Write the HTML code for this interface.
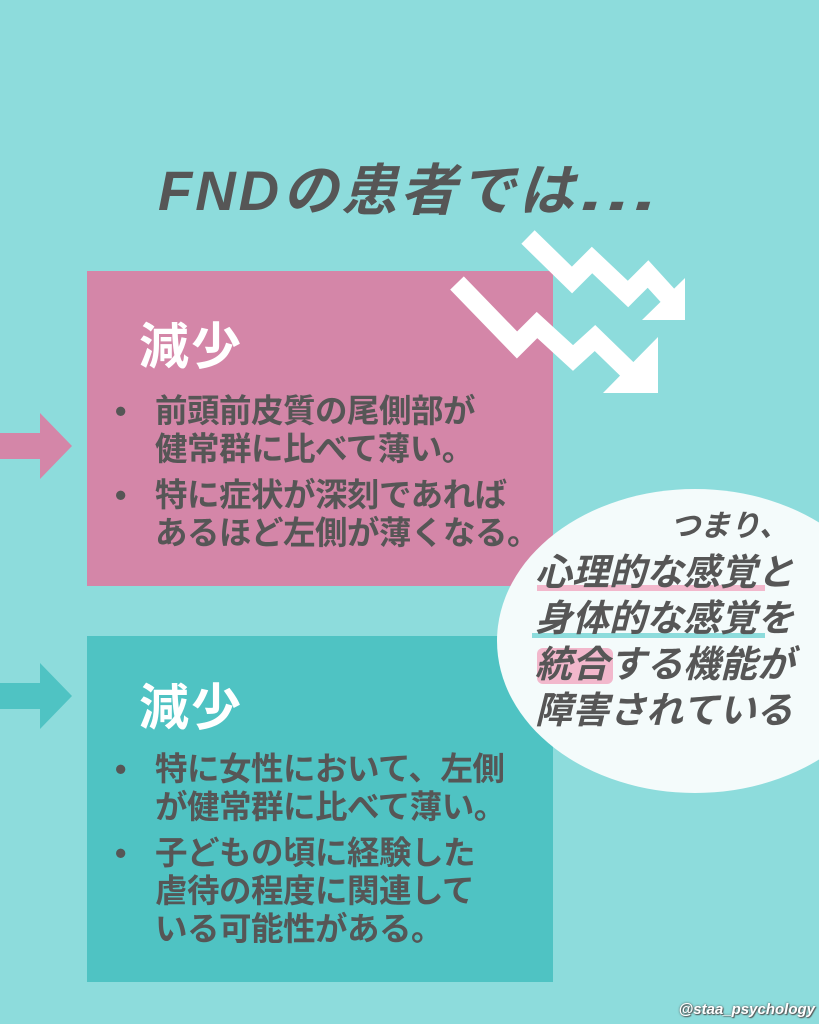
<!DOCTYPE html>
<html><head><meta charset="utf-8"><style>
body{margin:0;width:819px;height:1024px;overflow:hidden;background:#8ddcdc;position:relative;font-family:"Liberation Sans","Noto Sans CJK JP",sans-serif;color:#565656}
.abs{position:absolute}
.title{left:158px;top:146px;font-size:56px;font-weight:bold;font-style:italic;letter-spacing:3px;white-space:nowrap}
.box{position:absolute;left:87px;width:466px}
.h{position:absolute;left:52px;font-size:50px;font-weight:bold;color:#fff;letter-spacing:2px}
ul{position:absolute;left:22px;margin:0;padding:0;list-style:none;font-size:32.5px;font-weight:bold;line-height:38px;white-space:nowrap;letter-spacing:-0.5px}
li{position:relative;padding-left:46px;margin-bottom:8px}
li:before{content:"•";position:absolute;left:6px}
.ell{font-size:37px;font-style:italic;font-weight:bold;line-height:46px;white-space:nowrap}
</style></head><body>
<div class="abs title">FNDの患者では<span style="display:inline-block;transform:scaleX(1.5);transform-origin:left;letter-spacing:0">…</span></div>
<div class="box" style="top:271px;height:315px;background:#d486a8">
 <div class="h" style="top:36px">減少</div>
 <ul style="top:121px"><li>前頭前皮質の尾側部が<br>健常群に比べて薄い。</li><li>特に症状が深刻であれば<br>あるほど左側が薄くなる。</li></ul>
</div>
<div class="box" style="top:636px;height:346px;background:#4fc3c3">
 <div class="h" style="top:32px">減少</div>
 <ul style="top:114px"><li>特に女性において、左側<br>が健常群に比べて薄い。</li><li>子どもの頃に経験した<br>虐待の程度に関連して<br>いる可能性がある。</li></ul>
</div>
<svg class="abs" style="left:0;top:0" width="819" height="1024">
 <polygon points="0,433 40,433 40,413 72,446 40,479 40,459 0,459" fill="#d486a8"/>
 <polygon points="0,683 40,683 40,663 72,696 40,729 40,709 0,709" fill="#4fc3c3"/>
 <g fill="none" stroke="#fff" stroke-width="19" stroke-linejoin="miter">
  <polyline points="528,237 572,280 592,260 628,294 648,274 668,296"/>
  <polyline points="457,283 517,345 537,325 573,358 595,338 630,372"/>
 </g>
 <polygon points="642,320 685,320 685,278" fill="#fff"/>
 <polygon points="603,393 658,393 658,337" fill="#fff"/>
 <ellipse cx="695" cy="641" rx="198" ry="152" fill="#f4fbfb"/>
 <rect x="537" y="585" width="228" height="6" fill="#f2b8cc"/>
 <rect x="532" y="633" width="233" height="5" fill="#8ddcdc"/>
 <rect x="537" y="648" width="76" height="36" rx="6" fill="#f2b8cc"/>
</svg>
<div class="abs ell" style="right:30px;top:504px;font-size:30px">つまり、</div>
<div class="abs ell" style="left:535px;top:550px">心理的な感覚と<br>身体的な感覚を<br>統合する機能が<br>障害されている</div>
<div class="abs" style="right:4px;bottom:6px;font-size:15px;font-weight:bold;font-style:italic;color:#fff;text-shadow:0 0 2px #555,1px 1px 1px #555">@staa_psychology</div>
</body></html>
